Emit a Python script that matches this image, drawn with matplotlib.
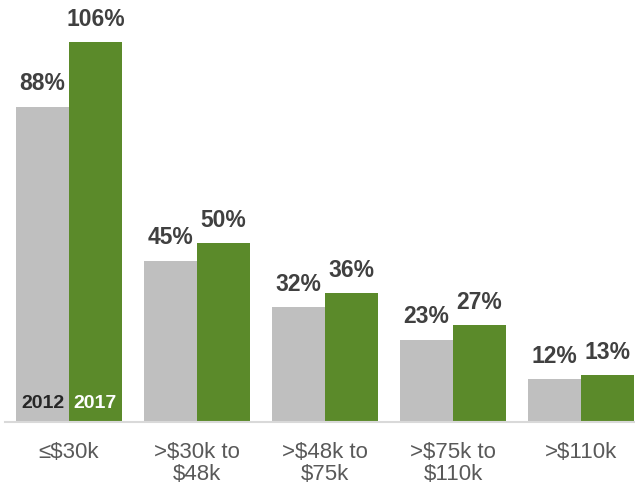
import matplotlib
matplotlib.use("Agg")
import matplotlib.pyplot as plt
import numpy as np

categories = ["≤$30k", ">$30k to\n$48k", ">$48k to\n$75k", ">$75k to\n$110k", ">$110k"]
values_2012 = [88, 45, 32, 23, 12]
values_2017 = [106, 50, 36, 27, 13]
series_names = ["2012", "2017"]

plt.rcParams['font.family'] = ['Liberation Sans', 'DejaVu Sans']

fig = plt.figure(figsize=(6.35, 4.89), dpi=100)
ax = fig.add_axes([5/635, 1 - 423/489, 630/635, 423/489])

gray = "#bfbfbf"
green = "#5b8a2a"
w = 0.414
x = np.arange(len(categories))
b1 = ax.bar(x - w/2, values_2012, w, color=gray)
b2 = ax.bar(x + w/2, values_2017, w, color=green)

for xi, v in zip(x, values_2012):
    ax.text(xi - w/2, v + 3.4, f"{v}%", ha="center", va="bottom", fontsize=16.5,
            fontweight="bold", color="#404040")
for xi, v in zip(x, values_2017):
    ax.text(xi + w/2, v + 3.4, f"{v}%", ha="center", va="bottom", fontsize=16.5,
            fontweight="bold", color="#404040")

ax.text(x[0] - w/2, 3.2, series_names[0], ha="center", va="bottom", fontsize=14,
        fontweight="bold", color="#262626")
ax.text(x[0] + w/2, 3.2, series_names[1], ha="center", va="bottom", fontsize=14,
        fontweight="bold", color="white")

ax.set_xlim(-0.5, -0.5 + 630/128)
ax.set_ylim(0, 118)
for s in ["top", "right", "left"]:
    ax.spines[s].set_visible(False)
ax.spines["bottom"].set_color("#d9d9d9")
ax.spines["bottom"].set_linewidth(1.5)
ax.set_yticks([])
ax.set_xticks(x)
ax.set_xticklabels(categories, fontsize=16, color="#595959", linespacing=1.05)
ax.tick_params(axis="x", length=0, pad=13.5)

fig.savefig("out.png", dpi=100)
